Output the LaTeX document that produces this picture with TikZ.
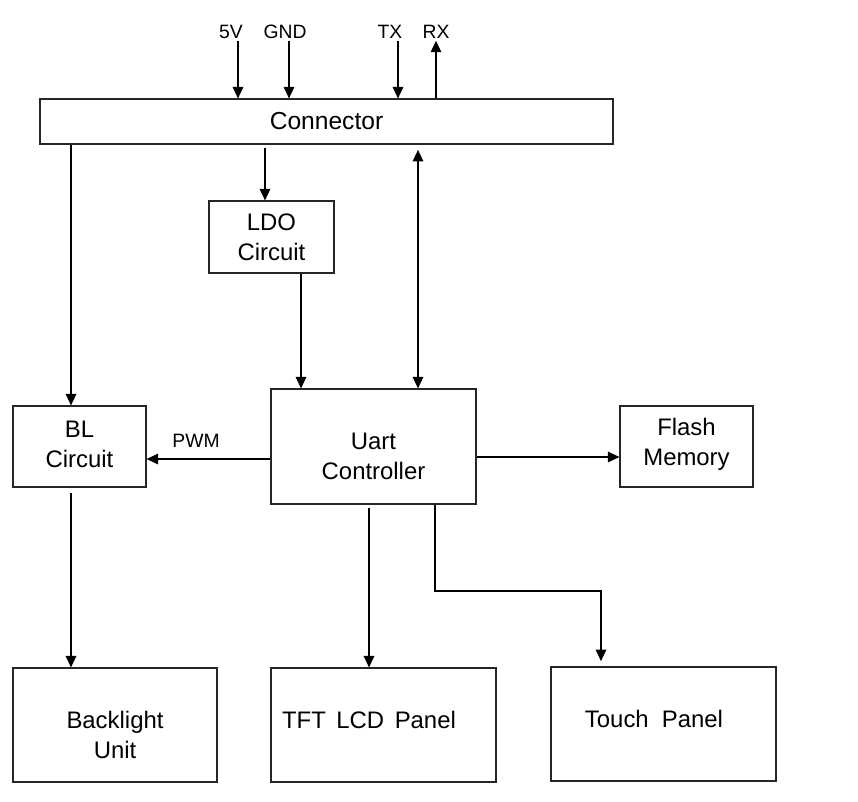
\documentclass[tikz,border=0pt]{standalone}
\usepackage{fontspec}
\setmainfont{Liberation Sans}
\usetikzlibrary{arrows.meta}
\begin{document}
\begin{tikzpicture}[x=0.02cm,y=-0.02cm,
  box/.style={draw=black!85,line width=0.7pt,align=center,font=\fontsize{14}{17}\selectfont,inner sep=0pt},
  txt/.style={align=center,font=\fontsize{13.6}{17}\selectfont,inner sep=0pt},
  lbl/.style={font=\fontsize{11}{13}\selectfont,inner sep=1pt},
  arr/.style={-{Triangle[length=6.5pt,width=6pt]},line width=0.6pt},
  darr/.style={{Triangle[length=6.5pt,width=6pt]}-{Triangle[length=6.5pt,width=6pt]},line width=0.6pt}]
\useasboundingbox (0,0) rectangle (858,801);
% boxes
\node[box,minimum width=11.46cm,minimum height=0.9cm] (con) at (326.5,121.5) {Connector};
\node[box,minimum width=2.5cm,minimum height=1.44cm] (ldo) at (271.5,237) {};
\node[txt] (ldot) at (271.5,237.5) {LDO\\Circuit};
\node[box,minimum width=2.66cm,minimum height=1.62cm] (bl) at (79.5,446.5) {};
\node[txt] (blt) at (79.5,444) {BL\\Circuit};
\node[box,minimum width=4.1cm,minimum height=2.3cm] (uart) at (373.5,446.5) {};
\node[txt] (uartt) at (373.5,456) {Uart\\Controller};
\node[box,minimum width=2.66cm,minimum height=1.62cm] (flash) at (686.5,446.5) {};
\node[txt] (flasht) at (686.5,444) {Flash\\Memory};
\node[box,minimum width=4.08cm,minimum height=2.28cm] (blu) at (115,725) {};
\node[txt] (blut) at (115,735) {Backlight\\Unit};
\node[box,minimum width=4.5cm,minimum height=2.28cm] (tft) at (383.5,725) {};
\node[txt] (tftt) at (369,720) {TFT\hspace{6pt}LCD\hspace{6pt}Panel};
\node[box,minimum width=4.5cm,minimum height=2.28cm] (touch) at (663.5,724) {};
\node[txt] (toucht) at (654,719) {Touch\hspace{7.5pt}Panel};
% top labels
\node[lbl] (v5) at (231,32) {5V};
\node[lbl] (gnd) at (285,32) {GND};
\node[lbl] (tx) at (390,32) {TX};
\node[lbl] (rx) at (436,32) {RX};
\node[lbl] (pwm) at (196,441) {PWM};
% x guide coordinates
\coordinate (x5v) at (238,0);
\coordinate (xgnd) at (289,0);
\coordinate (xtx) at (398,0);
\coordinate (xrx) at (436,0);
\coordinate (xbl) at (71,0);
\coordinate (xldo) at (265,0);
\coordinate (xldo2) at (301,0);
\coordinate (xbi) at (418,0);
\coordinate (xtft) at (369,0);
\coordinate (xtch) at (435,0);
\coordinate (xtch2) at (601,0);
\coordinate (ybend) at (0,591);
\coordinate (ypwm) at (0,459);
\coordinate (yfl) at (0,457);
% top arrows
\draw[arr] (v5.south -| x5v) -- (con.north -| x5v);
\draw[arr] (gnd.south -| xgnd) -- (con.north -| xgnd);
\draw[arr] (tx.south -| xtx) -- (con.north -| xtx);
\draw[arr] (con.north -| xrx) -- (rx.south -| xrx);
% internal
\draw[arr] (con.south -| xbl) -- (bl.north -| xbl);
\draw[arr,shorten <=2pt] (con.south -| xldo) -- (ldo.north -| xldo);
\draw[arr] (ldo.south -| xldo2) -- (uart.north -| xldo2);
\draw[darr,shorten <=3pt] (con.south -| xbi) -- (uart.north -| xbi);
\draw[arr] (uart.west |- ypwm) -- (bl.east |- ypwm);
\draw[arr] (uart.east |- yfl) -- (flash.west |- yfl);
\draw[arr,shorten <=3pt] (bl.south -| xbl) -- (blu.north -| xbl);
\draw[arr,shorten <=2pt] (uart.south -| xtft) -- (tft.north -| xtft);
\draw[arr] (uart.south -| xtch) -- (xtch |- ybend) -- (xtch2 |- ybend) -- ([yshift=3pt]touch.north -| xtch2);
\end{tikzpicture}
\end{document}
